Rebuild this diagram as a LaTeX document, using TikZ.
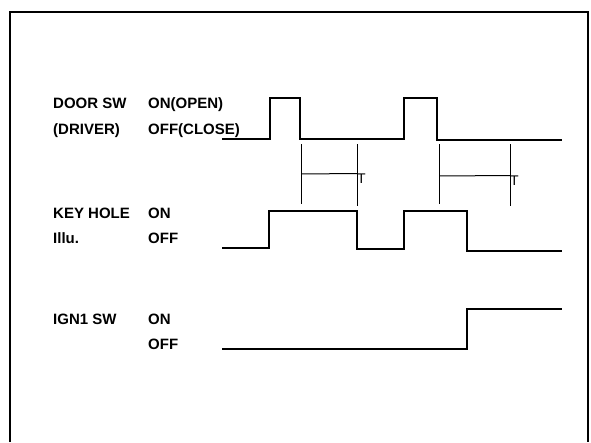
\documentclass[tikz,border=0pt]{standalone}
\usepackage{fontspec}
\setmainfont{Liberation Sans}

\begin{document}
\begin{tikzpicture}[x=1pt, y=-1pt, line join=miter,
    wave/.style={line width=2.2pt},
    frame/.style={line width=2pt},
    span/.style={line width=1pt},
    lab/.style={anchor=base west, inner sep=0pt, font=\bfseries\fontsize{15}{17}\selectfont},
    tlab/.style={anchor=north, inner sep=0pt, font=\fontsize{14}{16}\selectfont}]
  \useasboundingbox (0,0) rectangle (591,442);
  % ---------------------------------------------------------------- frame
  \draw[frame] (10,442) -- (10,12) -- (588,12) -- (588,442);
  % ---------------------------------------------------------------- labels
  \node[lab] (doorsw)  at (53,108) {DOOR SW};
  \node[lab] (driver)  at (53,134) {(DRIVER)};
  \node[lab] (dooron)  at (148,108) {ON(OPEN)};
  \node[lab] (dooroff) at (148,134) {OFF(CLOSE)};
  \node[lab] (keyhole) at (53,218) {KEY HOLE};
  \node[lab] (illu)    at (53,243) {Illu.};
  \node[lab] (keyon)   at (148,218) {ON};
  \node[lab] (keyoff)  at (148,243) {OFF};
  \node[lab] (ignsw)   at (53,324) {IGN1 SW};
  \node[lab] (ignon)   at (148,324) {ON};
  \node[lab] (ignoff)  at (148,349) {OFF};
  % ---------------------------------------------------------------- door switch
  \draw[wave] (222,139) -- (270,139) -- (270,98) -- (300,98) -- (300,139)
    -- (404,139) -- (404,98) -- (437,98) -- (437,140) -- (562,140);
  % timer T after each door close
  \foreach \a/\b/\y/\n in {301/357/174/1, 439/510/176/2} {
    \draw[span] (\a,144) -- (\a,204);
    \draw[span] (\b,144) -- (\b,206);
    \node[tlab] (t\n) at (\b+4.5,\y-0.5) {T};
    \draw[span] (\a,\y) -- (t\n.north west);
  }
  % ---------------------------------------------------------------- key hole illumination
  \draw[wave] (222,248) -- (269,248) -- (269,211) -- (357,211) -- (357,249)
    -- (404,249) -- (404,211) -- (467,211) -- (467,251) -- (562,251);
  % ---------------------------------------------------------------- ignition switch
  \draw[wave] (222,349) -- (467,349) -- (467,309) -- (562,309);
\end{tikzpicture}
\end{document}
